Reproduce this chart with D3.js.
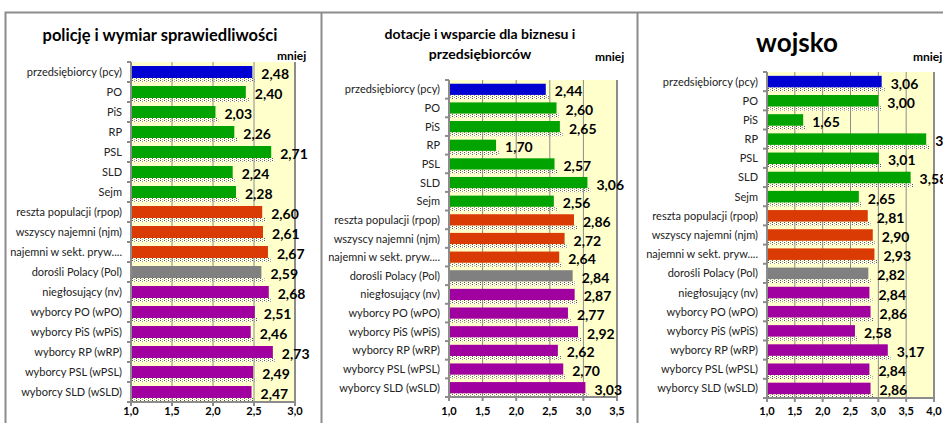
<!DOCTYPE html>
<html>
<head>
<meta charset="utf-8">
<script src="https://cdn.jsdelivr.net/npm/d3@7"></script>
<style>
  body { margin: 0; background: #fff; }
  text { font-family: Lato, "Open Sans", sans-serif; }
</style>
</head>
<body>
<div id="chart"></div>
<script>
// categories (same for all three panels)
var categories = ["przedsiębiorcy (pcy)", "PO", "PiS", "RP", "PSL", "SLD", "Sejm",
  "reszta populacji (rpop)", "wszyscy najemni (njm)", "najemni w sekt. pryw....",
  "dorośli Polacy (Pol)", "niegłosujący (nv)", "wyborcy PO (wPO)", "wyborcy PiS (wPiS)",
  "wyborcy RP (wRP)", "wyborcy PSL (wPSL)", "wyborcy SLD (wSLD)"];

// group of each category -> colour
var groups = ["pcy", "party", "party", "party", "party", "party", "party",
  "rest", "rest", "rest", "pol", "voters", "voters", "voters", "voters", "voters", "voters"];

var policjaValues = [2.48, 2.40, 2.03, 2.26, 2.71, 2.24, 2.28, 2.60, 2.61, 2.67, 2.59, 2.68, 2.51, 2.46, 2.73, 2.49, 2.47];
var dotacjeValues = [2.44, 2.60, 2.65, 1.70, 2.57, 3.06, 2.56, 2.86, 2.72, 2.64, 2.84, 2.87, 2.77, 2.92, 2.62, 2.70, 3.03];
var wojskoValues  = [3.06, 3.00, 1.65, 3.86, 3.01, 3.58, 2.65, 2.81, 2.90, 2.93, 2.82, 2.84, 2.86, 2.58, 3.17, 2.84, 2.86];

var ticks1 = [1.0, 1.5, 2.0, 2.5, 3.0];
var ticks2 = [1.0, 1.5, 2.0, 2.5, 3.0, 3.5];
var ticks3 = [1.0, 1.5, 2.0, 2.5, 3.0, 3.5, 4.0];

var color = d3.scaleOrdinal()
  .domain(["pcy", "party", "rest", "pol", "voters"])
  .range(["#0000D2", "#00A300", "#DA3A04", "#808080", "#A000A0"]);

var fmt = function(v) { return d3.format(".2f")(v).replace(".", ","); };
var fmtTick = function(v) { return d3.format(".1f")(v).replace(".", ","); };

var svg = d3.select("#chart").append("svg")
  .attr("width", 943)
  .attr("height", 423);

// dotted "shadow" pattern
var defs = svg.append("defs");
var pat = defs.append("pattern")
  .attr("id", "dots")
  .attr("width", 4).attr("height", 2)
  .attr("patternUnits", "userSpaceOnUse");
pat.append("rect").attr("width", 4).attr("height", 2).attr("fill", "#FFFFE6");
pat.append("rect").attr("width", 1).attr("height", 1).attr("fill", "#555");
pat.append("rect").attr("x", 2).attr("y", 1).attr("width", 1).attr("height", 1).attr("fill", "#999");

// panel frames
svg.append("path")
  .attr("d", "M5.5,423 V12.5 H943 M321.5,12.5 V423 M637.5,12.5 V423")
  .attr("fill", "none")
  .attr("stroke", "#8c8c8c")
  .attr("stroke-width", 2);

function drawPanel(cfg) {
  var x = d3.scaleLinear().domain([1, cfg.max]).range([cfg.left, cfg.right]);
  var y = d3.scaleBand().domain(categories).range([cfg.top, cfg.bottom]).paddingInner(0.4).paddingOuter(0.2);
  var g = svg.append("g");

  // plot background
  g.append("rect")
    .attr("x", cfg.left).attr("y", cfg.top)
    .attr("width", cfg.right - cfg.left).attr("height", cfg.bottom - cfg.top)
    .attr("fill", "#FFFFCC");

  // shadows
  g.selectAll(".shadow")
    .data(cfg.values)
    .enter().append("rect")
      .attr("x", cfg.left + 1)
      .attr("y", function(d, i) { return y(categories[i]) + y.bandwidth(); })
      .attr("width", function(d) { return x(d) - cfg.left + 2; })
      .attr("height", 4)
      .attr("fill", "url(#dots)");

  // gridlines
  g.selectAll(".grid")
    .data(cfg.ticks.slice(1))
    .enter().append("line")
      .attr("x1", function(d) { return x(d); })
      .attr("x2", function(d) { return x(d); })
      .attr("y1", cfg.top).attr("y2", cfg.bottom)
      .attr("stroke", "#8c8c8c")
      .attr("stroke-width", function(d) { return d === cfg.max ? 2 : 1; });

  // bars
  g.selectAll(".bar")
    .data(cfg.values)
    .enter().append("rect")
      .attr("x", cfg.left)
      .attr("y", function(d, i) { return y(categories[i]); })
      .attr("width", function(d) { return x(d) - cfg.left; })
      .attr("height", y.bandwidth())
      .attr("fill", function(d, i) { return color(groups[i]); });

  // left axis with ticks between categories
  var step = (cfg.bottom - cfg.top) / categories.length;
  g.append("line")
    .attr("x1", cfg.left).attr("x2", cfg.left)
    .attr("y1", cfg.top).attr("y2", cfg.bottom)
    .attr("stroke", "#8c8c8c").attr("stroke-width", 2);
  g.selectAll(".ytick")
    .data(d3.range(categories.length + 1))
    .enter().append("line")
      .attr("x1", cfg.left - 4).attr("x2", cfg.left)
      .attr("y1", function(i) { return cfg.top + i * step; })
      .attr("y2", function(i) { return cfg.top + i * step; })
      .attr("stroke", "#8c8c8c").attr("stroke-width", 2);

  // bottom axis
  g.append("line")
    .attr("x1", cfg.left).attr("x2", cfg.right)
    .attr("y1", cfg.bottom).attr("y2", cfg.bottom)
    .attr("stroke", "#8c8c8c").attr("stroke-width", 2);
  g.selectAll(".xtick")
    .data(cfg.ticks)
    .enter().append("line")
      .attr("x1", function(d) { return x(d); })
      .attr("x2", function(d) { return x(d); })
      .attr("y1", cfg.bottom).attr("y2", cfg.bottom + 4)
      .attr("stroke", "#8c8c8c").attr("stroke-width", 2);
  g.selectAll(".xlab")
    .data(cfg.ticks)
    .enter().append("text")
      .attr("x", function(d) { return x(d); })
      .attr("y", 415)
      .attr("text-anchor", "middle")
      .style("font-size", "11px")
      .style("font-weight", "bold")
      .text(fmtTick);

  // category labels
  g.selectAll(".cat")
    .data(categories)
    .enter().append("text")
      .attr("x", cfg.left - 9)
      .attr("y", function(d) { return y(d) + y.bandwidth() / 2 + 4; })
      .attr("text-anchor", "end")
      .style("font-size", "11px")
      .style("fill", "#222")
      .text(function(d) { return d; });

  // value labels
  g.selectAll(".val")
    .data(cfg.values)
    .enter().append("text")
      .attr("x", function(d) { return x(d) + 9; })
      .attr("y", function(d, i) { return y(categories[i]) + y.bandwidth() / 2 + 7; })
      .style("font-size", "14px")
      .style("font-weight", "bold")
      .text(fmt);

  // titles
  cfg.title.forEach(function(t, i) {
    svg.append("text")
      .attr("x", cfg.titleX)
      .attr("y", cfg.titleY + i * cfg.titleGap)
      .attr("text-anchor", "middle")
      .style("font-size", cfg.titleSize)
      .style("font-weight", "bold")
      .text(t);
  });
  svg.append("text")
    .attr("x", cfg.mniejX)
    .attr("y", cfg.mniejY)
    .style("font-size", "12px")
    .style("font-weight", "bold")
    .text("mniej");
}

drawPanel({ values: policjaValues, ticks: ticks1, max: 3.0,
  left: 131, right: 295, top: 62, bottom: 402,
  title: ["policję i wymiar sprawiedliwości"], titleX: 160, titleY: 41, titleGap: 0, titleSize: "16.5px",
  mniejX: 277, mniejY: 60 });

drawPanel({ values: dotacjeValues, ticks: ticks2, max: 3.5,
  left: 449, right: 617, top: 80, bottom: 397,
  title: ["dotacje i wsparcie dla biznesu i", "przedsiębiorców"], titleX: 480, titleY: 39, titleGap: 20, titleSize: "14px",
  mniejX: 595, mniejY: 61 });

drawPanel({ values: wojskoValues, ticks: ticks3, max: 4.0,
  left: 767, right: 934, top: 72, bottom: 398,
  title: ["wojsko"], titleX: 797, titleY: 52, titleGap: 0, titleSize: "26px",
  mniejX: 913, mniejY: 61 });
</script>
</body>
</html>
